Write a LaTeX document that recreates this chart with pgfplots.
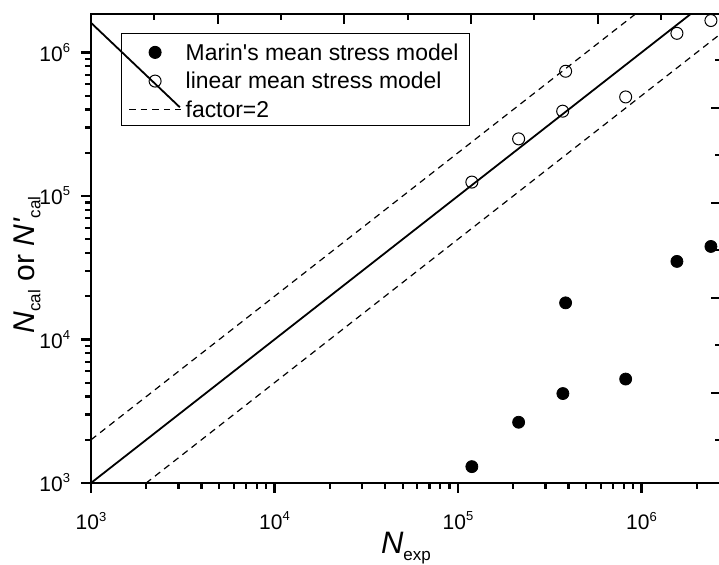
\documentclass[border=0pt]{standalone}
\usepackage{fontspec}
\setmainfont{Liberation Sans}
\usepackage{pgfplots}
\pgfplotsset{compat=1.18}

\newcommand{\tl}[1]{10\raisebox{0.8ex}{\fontsize{6.5}{6.5}\selectfont #1}}
\newcommand{\sub}[1]{\raisebox{-0.4ex}{\fontsize{8.5}{8.5}\selectfont #1}}

\pgfplotsset{
  markleg/.style={legend image code/.code={\draw[mark repeat=2,mark phase=2,##1] plot coordinates {(0pt,-0.8pt)(13pt,-0.8pt)(26pt,-0.8pt)};}},
  lineleg/.style={legend image code/.code={\draw[##1] (0pt,-0.8pt) -- (26pt,-0.8pt);}},
}

\begin{document}
\begin{tikzpicture}
\begin{axis}[
  name=ax,
  scale only axis,
  clip mode=individual,
  width=315pt, height=234.5pt,
  xmode=log, ymode=log,
  xmin=1e3, xmax=2.712e6, ymin=1e3, ymax=1.855e6,
  axis line style={line width=1.3pt},
  major tick style={line width=1.1pt, black},
  minor tick style={line width=1.1pt, black},
  major tick length=5pt, minor tick length=3pt,
  xtick align=outside, ytick align=outside,
  xtick pos=left, ytick pos=left,
  xtick={1e3,1e4,1e5,1e6},
  xticklabels={\tl{3},\tl{4},\tl{5},\tl{6}},
  minor xtick={2e3,3e3,4e3,5e3,6e3,7e3,8e3,9e3,2e4,3e4,4e4,5e4,6e4,7e4,8e4,9e4,2e5,3e5,4e5,5e5,6e5,7e5,8e5,9e5,2e6},
  ytick={1e3,1e4,1e5,1e6},
  yticklabels={\tl{3},\tl{4},\tl{5},\tl{6}},
  minor ytick={2e3,3e3,4e3,5e3,6e3,7e3,8e3,9e3,2e4,3e4,4e4,5e4,6e4,7e4,8e4,9e4,2e5,3e5,4e5,5e5,6e5,7e5,8e5,9e5},
  ticklabel style={font=\fontsize{10.5}{10.5}\selectfont},
  xticklabel style={yshift=-6pt},
  yticklabel style={xshift=-2pt},
  xlabel={\textit{N}\sub{exp}},
  xlabel style={font=\fontsize{15.5}{15.5}\selectfont, at={(axis description cs:0.5,0)}, anchor=base, yshift=-35.5pt},
  ylabel={\textit{N}\sub{cal} or \textit{N\textquotesingle}\sub{cal}},
  ylabel style={font=\fontsize{15}{15}\selectfont, at={(axis description cs:-0.1016,0.465)}, anchor=center},
  legend style={at={(axis description cs:0.0476,0.9595)}, anchor=north west,
    draw=black, line width=0.5pt, fill=none,
    font=\fontsize{11.45}{11.45}\selectfont,
    inner xsep=3.5pt, inner ysep=3.9pt,
    row sep=4.85pt,
    nodes={inner xsep=2pt, inner ysep=0pt, text height=9.5pt, text depth=0pt}},
  legend cell align=left,
]
% 1:1 line
\addplot[black, line width=0.9pt, forget plot] coordinates {(1e3,1e3) (1e7,1e7)};
% annotation line from corner to legend
\addplot[black, line width=0.9pt, forget plot] coordinates {(1e3,1.61e6) (3.05e3,4.15e5)};

\addplot[only marks, mark=*, mark size=3pt, black, markleg]
  coordinates {
  (1.19e5,1.30e3) (2.14e5,2.65e3) (3.86e5,1.80e4) (3.73e5,4.2e3)
  (8.2e5,5.3e3) (1.56e6,3.5e4) (2.39e6,4.45e4)};
\addlegendentry{Marin\textquotesingle s mean stress model}

\addplot[only marks, mark=o, mark size=3pt, black, mark options={line width=0.5pt}, markleg]
  coordinates {
  (1.19e5,1.25e5) (2.14e5,2.5e5) (3.86e5,7.4e5) (3.72e5,3.9e5)
  (8.2e5,4.9e5) (1.56e6,1.36e6) (2.39e6,1.67e6)};
\addlegendentry{linear mean stress model}

\addplot[black, line width=0.6pt, dash pattern=on 3.3pt off 2.5pt, lineleg]
  coordinates {(1e3,2e3) (1e7,2e7)};
\addlegendentry{factor=2}
\addplot[black, line width=0.6pt, dash pattern=on 3.3pt off 2.5pt, forget plot]
  coordinates {(1e3,5e2) (1e7,5e6)};
\end{axis}

% top and right tick marks of the frame
\begin{axis}[
  at={(ax.south west)}, anchor=south west,
  scale only axis,
  width=315pt, height=234.5pt,
  xmin=0, xmax=630, ymin=0, ymax=469,
  axis line style={draw=none},
  major tick style={line width=1.1pt, black},
  minor tick style={line width=1.1pt, black},
  major tick length=5pt, minor tick length=3pt,
  xtick align=inside, ytick align=inside,
  xtick pos=right, ytick pos=right,
  xtick={127,253,380,507}, minor xtick={63,190,317,443,570},
  ytick={90,185,280,375}, minor ytick={43,138,233,328,423},
  xticklabels={}, yticklabels={},
]
\end{axis}

\pgfresetboundingbox
\path[use as bounding box] ([xshift=-45.5pt,yshift=-41pt]ax.south west) rectangle ([xshift=314pt,yshift=241.5pt]ax.south west);
\end{tikzpicture}
\end{document}
